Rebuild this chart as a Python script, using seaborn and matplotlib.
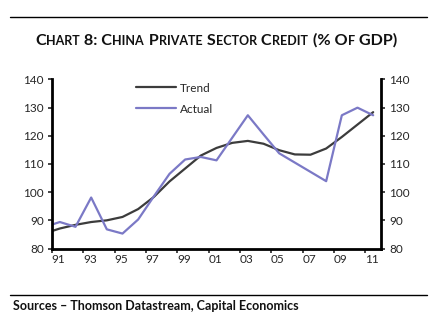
import matplotlib
matplotlib.use("Agg")
import matplotlib.pyplot as plt
import seaborn as sns
import pandas as pd

# Annual observations, plotted at mid-year
years = list(range(1990, 2012))
actual = [87.6, 89.4, 87.7, 98.1, 86.8, 85.3, 90.3, 98.5, 106.5, 111.6, 112.5,
          111.3, 119.3, 127.3, 120.5, 113.8, 110.5, 107.2, 103.9, 127.3, 130.0, 127.3]
trend = [85.3, 87.1, 88.4, 89.4, 90.0, 91.2, 94.0, 98.3, 103.8, 108.4, 113.0,
         115.7, 117.5, 118.2, 117.2, 114.9, 113.4, 113.3, 115.5, 119.6, 124.0, 128.4]
tick_years = list(range(1991, 2012, 2))
tick_labels = [f"{y % 100:02d}" for y in tick_years]
y_ticks = [80, 90, 100, 110, 120, 130, 140]

df = pd.DataFrame({
    "year": [y + 0.5 for y in years] * 2,
    "value": trend + actual,
    "series": ["Trend"] * len(years) + ["Actual"] * len(years),
})

sns.set_style("ticks")
plt.rcParams["font.family"] = ["Lato", "DejaVu Sans"]

fig = plt.figure(figsize=(4.41, 3.22), dpi=100)
ax = fig.add_axes([52 / 441, 1 - 248.5 / 322, 329 / 441, 169 / 322])

palette = {"Trend": "#3c3c3c", "Actual": "#7b79c6"}
sns.lineplot(data=df, x="year", y="value", hue="series", palette=palette,
             linewidth=1.6, ax=ax, sort=False, estimator=None)

ax.set_xlim(1991, 2012)
ax.set_ylim(80, 140)
ax.set_xlabel("")
ax.set_ylabel("")

# Year ticks at the start of each year, labels centred in the year
ax.set_xticks(tick_years)
ax.set_xticklabels([])
ax.set_xticks([y + 0.42 for y in tick_years], minor=True)
ax.set_xticklabels(tick_labels, minor=True)
ax.tick_params(axis="x", which="major", length=3, width=1.2, direction="out")
ax.tick_params(axis="x", which="minor", length=0, pad=4, labelsize=8.5)

ax.set_yticks(y_ticks)
ax.set_yticklabels([str(v) for v in y_ticks])
ax.tick_params(axis="y", which="major", length=3, width=1.2, direction="out",
               left=True, right=True, labelleft=True, labelright=True,
               labelsize=8.5, pad=3)

for side in ("left", "right", "bottom"):
    ax.spines[side].set_visible(True)
    ax.spines[side].set_linewidth(2.0)
    ax.spines[side].set_color("black")
ax.spines["top"].set_visible(False)

leg = ax.legend(loc="upper left", bbox_to_anchor=(0.24, 1.01), frameon=False,
                fontsize=8.5, handlelength=3.4, handletextpad=0.35,
                labelspacing=0.85, borderaxespad=0)
for line in leg.get_lines():
    line.set_linewidth(1.6)

# Rules above the title and below the chart
fig.add_artist(plt.Line2D([10 / 441, 427 / 441], [1 - 17 / 322, 1 - 17 / 322],
                          color="black", linewidth=1.0))
fig.add_artist(plt.Line2D([10 / 441, 427 / 441], [1 - 295 / 322, 1 - 295 / 322],
                          color="black", linewidth=1.0))

# Small-caps title built from large and small capital runs
title_parts = [
    ("C", True), ("HART", False), (" 8: C", True), ("HINA", False),
    (" P", True), ("RIVATE", False), (" S", True), ("ECTOR", False),
    (" C", True), ("REDIT", False), (" (% O", True), ("F", False),
    (" GDP)", True),
]
big_size, small_size = 11.6, 9.0
renderer = fig.canvas.get_renderer()
texts = []
for s, big in title_parts:
    t = fig.text(0, 1 - 45 / 322, s, fontsize=big_size if big else small_size,
                 fontweight="bold", color="#111111", va="baseline", ha="left")
    texts.append(t)
widths = [t.get_window_extent(renderer).width for t in texts]
total = sum(widths)
x = 35.0
for t, w in zip(texts, widths):
    t.set_x(x / 441)
    x += w * (363 / total)

fig.text(13 / 441, 1 - 305.5 / 322, "Sources \u2013 Thomson Datastream, Capital Economics",
         fontsize=9.0, fontweight="bold", color="#111111", va="center", ha="left")

fig.savefig("out.png", dpi=100)
